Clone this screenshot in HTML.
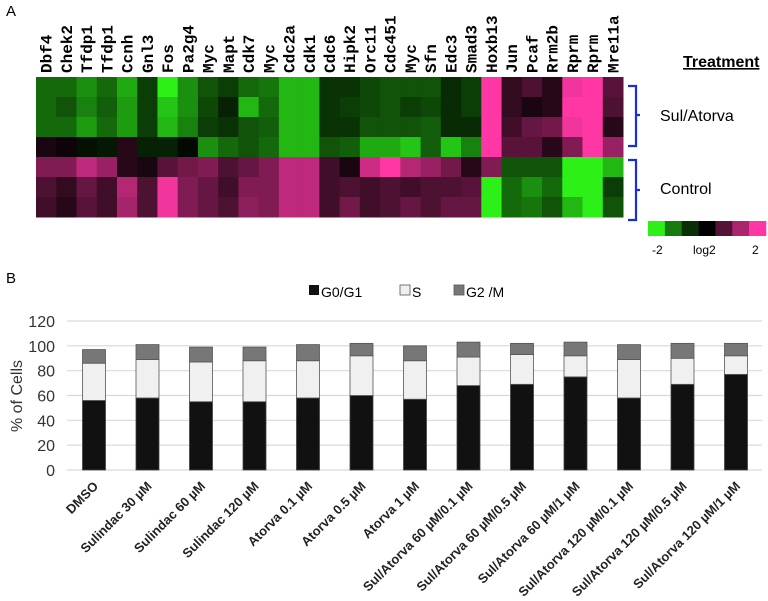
<!DOCTYPE html>
<html><head><meta charset="utf-8"><style>
body{margin:0;background:#fff;width:768px;height:601px;overflow:hidden}
svg{display:block}
</style></head><body>
<svg id="fig" width="768" height="601" xmlns="http://www.w3.org/2000/svg" font-family="Liberation Sans, Arial, sans-serif">
<text x="6" y="16" font-size="15">A</text>
<text x="6" y="283" font-size="15">B</text>
<g id="heat"></g>
<text x="683" y="67" font-size="16" font-weight="bold" text-decoration="underline">Treatment</text>
<path d="M628,86 h8 v29 h4 M636,115 v31 h-8" fill="none" stroke="#1a2ed8" stroke-width="2.2"/>
<text x="660" y="121" font-size="16">Sul/Atorva</text>
<path d="M628,160 h8 v30 h4 M636,190 v30 h-8" fill="none" stroke="#1a2ed8" stroke-width="2.2"/>
<text x="660" y="194" font-size="16">Control</text>
<g id="scale"></g>
<text x="652" y="254" font-size="12">-2</text>
<text x="693" y="254" font-size="12">log2</text>
<text x="752" y="254" font-size="12">2</text>
<g>
<rect x="309" y="285" width="10" height="10" fill="#111"/>
<text x="321" y="297" font-size="14">G0/G1</text>
<rect x="400" y="285" width="10" height="10" fill="#f0f0f0" stroke="#555" stroke-width="0.8"/>
<text x="412" y="297" font-size="14">S</text>
<rect x="454" y="285" width="10" height="10" fill="#777" stroke="#555" stroke-width="0.8"/>
<text x="466" y="297" font-size="14">G2 /M</text>
</g>
<text transform="translate(22,396) rotate(-90)" text-anchor="middle" font-size="16" fill="#333">% of Cells</text>
<g id="bars"></g>
</svg>
<script>
const genes=["Dbf4","Chek2","Tfdp1","Tfdp1","Ccnh","Gnl3","Fos","Pa2g4","Myc","Mapt","Cdk7","Myc","Cdc2a","Cdk1","Cdc6","Hipk2","Orc11","Cdc451","Myc","Sfn","Edc3","Smad3","Hoxb13","Jun","Pcaf","Rrm2b","Rprm","Rprm","Mre11a"];
const row1=[-1.2,-1.2,-1.5,-1.2,-1.7,-0.8,-2,-1.5,-1,-0.8,-1.2,-1.3,-1.8,-1.8,-0.7,-0.7,-0.9,-1,-1,-1,-0.6,-0.8,2,0.4,0.6,0.3,1.9,2,0.7];
const row2=[-1.2,-1,-1.4,-1.1,-1.6,-0.8,-1.9,-1.5,-0.9,-0.5,-1.8,-1.2,-1.8,-1.8,-0.7,-0.8,-0.9,-1,-0.8,-0.9,-0.6,-0.8,2,0.4,0.2,0.3,2,2,0.6];
const row3=[-1.2,-1.2,-1.6,-1.2,-1.6,-0.8,-1.8,-1.4,-0.8,-0.7,-1,-1.1,-1.8,-1.8,-0.7,-0.7,-1,-1,-1,-1.1,-0.6,-0.6,2,0.5,0.8,0.9,1.9,2,0.3];
const row4=[0.2,0.1,-0.3,-0.4,0.3,-0.5,-0.5,-0.2,-1.5,-1.2,-1,-1.2,-1.8,-1.8,-1,-1.1,-1.7,-1.7,-1.9,-1.1,-1.9,-1.4,2,0.7,0.7,0.3,1,2,1.2];
const row5=[1,1,1.5,1.2,0.3,0.2,0.7,0.9,1,0.6,0.8,1,1.5,1.5,0.5,0.2,1.6,2,1.4,1.2,0.9,0.3,1,-1,-1,-1,-2,-2,-1.8];
const row6=[0.6,0.4,0.8,0.5,1.4,0.6,1.9,1,0.8,0.5,1,1,1.5,1.5,0.5,0.6,0.5,0.6,0.5,0.6,0.6,0.7,-2,-1.2,-1.5,-1.2,-2,-2,-0.8];
const row7=[0.5,0.3,0.7,0.5,1.3,0.6,1.9,1,0.8,0.6,1.1,1,1.5,1.5,0.5,0.9,0.5,0.6,0.8,0.6,0.8,0.8,-2,-1.2,-1.3,-1,-1.8,-2,-1];
const scaleSteps=[-2,-1.33,-0.67,0,0.67,1.33,2];

const categories=["DMSO","Sulindac 30 µM","Sulindac 60 µM","Sulindac 120 µM","Atorva 0.1 µM","Atorva 0.5 µM","Atorva 1 µM","Sul/Atorva 60 µM/0.1 µM","Sul/Atorva 60 µM/0.5 µM","Sul/Atorva 60 µM/1 µM","Sul/Atorva 120 µM/0.1 µM","Sul/Atorva 120 µM/0.5 µM","Sul/Atorva 120 µM/1 µM"];
const g0g1=[56,58,55,55,58,60,57,68,69,75,58,69,77];
const sPhase=[30,31,32,33,30,32,31,23,24,17,31,21,15];
const g2m=[11,12,12,11,13,10,12,12,9,11,12,12,10];
const yTicks=[0,20,40,60,80,100,120];

const NS="http://www.w3.org/2000/svg";
function mk(tag,attrs,parent){const e=document.createElementNS(NS,tag);for(const k in attrs)e.setAttribute(k,attrs[k]);parent.appendChild(e);return e;}
function col(v,bright){v=Math.max(-2,Math.min(2,v))/2;
 if(v<0){let t=-v;t=bright?t:Math.pow(t,1.35)*0.88;return `rgb(${Math.round(45*t)},${Math.round(240*t)},${Math.round(25*t)})`;}
 return `rgb(${Math.round(255*v)},${Math.round(55*v)},${Math.round(165*v)})`;}

const heat=document.getElementById('heat');
const hx0=36,hx1=623,hy0=77,rowH=20;
const cw=(hx1-hx0)/genes.length;
const rows=[row1,row2,row3,row4,row5,row6,row7];
rows.forEach((r,ri)=>{r.forEach((v,ci)=>{
 const c=mk('rect',{x:hx0+ci*cw,y:hy0+ri*rowH,width:cw+0.5,height:rowH+0.5,fill:col(v,v<=-1.95)},heat);
 
 
});});
genes.forEach((g,ci)=>{
 const t=mk('text',{transform:`translate(${hx0+ci*cw+cw/2+5.5},73) rotate(-90)`,'font-family':'Liberation Mono, monospace','font-weight':'bold','font-size':'16'},heat);
 t.textContent=g;
 
 
});
const sc=document.getElementById('scale');
const sw=(766-648)/scaleSteps.length;
scaleSteps.forEach((v,i)=>{
 const r=mk('rect',{x:648+i*sw,y:221,width:sw+0.3,height:15,fill:col(v,v<=-1.95)},sc);
 
 
});

const bars=document.getElementById('bars');
const y0=470,yPer=(470-321)/120;
const yS=v=>y0-v*yPer;
const xS=i=>94+i*53.5;
const bw=23;
yTicks.forEach(t=>{
 const l=mk('line',{x1:67,x2:762,y1:yS(t),y2:yS(t),stroke:'#d9d9d9','stroke-width':1.2},bars);
 
 
 const tx=mk('text',{x:55,y:yS(t)+6,'text-anchor':'end','font-size':'16',fill:'#333'},bars);
 tx.textContent=t;
 
 
});
categories.forEach((c,i)=>{
 const x=xS(i)-bw/2;
 const a=g0g1[i],b=sPhase[i],d=g2m[i];
 const r1=mk('rect',{x:x,y:yS(a),width:bw,height:a*yPer,fill:'#111',stroke:'#444','stroke-width':0.8},bars);
 
 
 const r2=mk('rect',{x:x,y:yS(a+b),width:bw,height:b*yPer,fill:'#f0f0f0',stroke:'#555','stroke-width':0.8},bars);
 
 
 const r3=mk('rect',{x:x,y:yS(a+b+d),width:bw,height:d*yPer,fill:'#777',stroke:'#555','stroke-width':0.8},bars);
 
 
 const t=mk('text',{transform:`translate(${xS(i)+5},487) rotate(-45)`,'text-anchor':'end','font-size':'13','font-weight':'bold',fill:'#222'},bars);
 t.textContent=c;
 
 
});
</script>
</body></html>
